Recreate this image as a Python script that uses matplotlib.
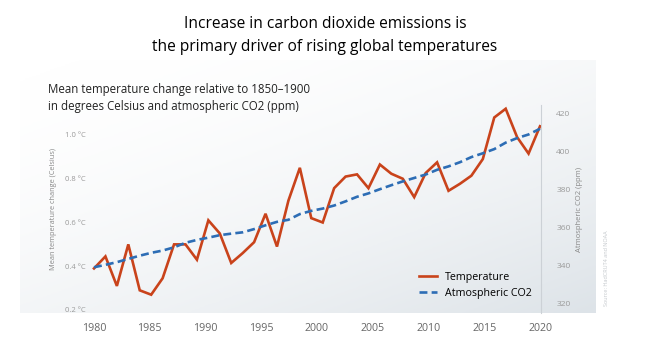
import numpy as np
import matplotlib
matplotlib.use("Agg")
import matplotlib.pyplot as plt
from matplotlib.colors import LinearSegmentedColormap

plt.rcParams['font.family'] = ['Open Sans', 'DejaVu Sans']

# Data
years = list(range(1980, 2020))
temperature = [0.39, 0.445, 0.31, 0.50, 0.29, 0.27, 0.345, 0.50, 0.50, 0.43,
               0.61, 0.55, 0.415, 0.46, 0.51, 0.64, 0.49, 0.70, 0.85, 0.62,
               0.60, 0.757, 0.81, 0.82, 0.757, 0.865, 0.823, 0.80, 0.716, 0.826,
               0.875, 0.745, 0.777, 0.814, 0.89, 1.08, 1.12, 0.99, 0.915, 1.04]
co2 = [338.8, 340.1, 341.5, 343.2, 344.9, 346.4, 347.6, 349.3, 351.7, 353.2,
       354.4, 355.7, 356.5, 357.2, 358.9, 360.9, 362.7, 363.8, 366.8, 368.5,
       369.7, 371.3, 373.5, 375.9, 377.7, 379.9, 382.0, 384.0, 385.8, 387.6,
       390.1, 391.9, 394.1, 396.8, 398.8, 401.0, 404.4, 406.8, 408.7, 411.7]
x_tick_labels = ["1980", "1985", "1990", "1995", "2000", "2005", "2010", "2015", "2020"]
temp_ticks = [0.2, 0.4, 0.6, 0.8, 1.0]
temp_tick_labels = ["0.2 °C", "0.4 °C", "0.6 °C", "0.8 °C", "1.0 °C"]
co2_ticks = [320, 340, 360, 380, 400, 420]

W, H = 650, 361
fig = plt.figure(figsize=(W / 100, H / 100), dpi=100)

# soft gradient panel behind the plot
bg = fig.add_axes([20 / W, (H - 313) / H, (596 - 20) / W, (313 - 60) / H])
u = np.linspace(0, 1, 300)
v = np.linspace(0, 1, 200)
U, V = np.meshgrid(u, v)
grad = np.clip((0.45 * U + 0.55 * V), 0, 1) ** 1.8
cmap = LinearSegmentedColormap.from_list("bg", ["#ffffff", "#dde3e8"])
bg.imshow(grad, cmap=cmap, aspect="auto", extent=[0, 1, 0, 1], origin="upper")
bg.axis("off")

# main axes
ax = fig.add_axes([90 / W, (H - 313) / H, (541 - 90) / W, (313 - 105) / H])
ax.patch.set_alpha(0)
ax2 = ax.twinx()

t_line, = ax.plot(years, temperature, color="#c9431b", lw=1.9, solid_joinstyle="miter",
                  label="Temperature", zorder=3)
c_line, = ax2.plot(years, co2, color="#2d6db5", lw=1.9, dashes=(3, 1.6),
                   label="Atmospheric CO2", zorder=2)

ax.set_xlim(1980 - 4 / 11.44, 2019 + 1 / 11.44)
ax.set_ylim(0.2 - 3 / 218.75, 1.0 + 30 / 218.75)
ax2.set_ylim(320 - 10 / 1.9, 420 + 8 / 1.9)

ax.set_xticks(np.linspace(years[0], years[-1], len(x_tick_labels)))
ax.set_xticklabels(x_tick_labels)
ax.set_yticks(temp_ticks)
ax.set_yticklabels(temp_tick_labels)
ax2.set_yticks(co2_ticks)

ax.tick_params(axis="x", length=0, pad=7, labelsize=7.7, labelcolor="#666666")
ax.tick_params(axis="y", length=0, pad=3, labelsize=5.5, labelcolor="#9a9a9a")
ax2.tick_params(axis="y", length=0, pad=11, labelsize=6, labelcolor="#9a9a9a")

for a in (ax, ax2):
    for s in a.spines.values():
        s.set_visible(False)
ax2.spines["right"].set_visible(True)
ax2.spines["right"].set_color("#ccd1d6")
ax2.spines["right"].set_linewidth(0.8)

ax.set_ylabel("Mean temperature change (Celsius)", fontsize=5.3, color="#888888", labelpad=6)
ax2.set_ylabel("Atmospheric CO2 (ppm)", fontsize=5.5, color="#888888", labelpad=4)

ax.legend(handles=[t_line, c_line], loc="lower right", bbox_to_anchor=(1.0, 0.02),
          frameon=False, fontsize=7.7, handlelength=1.7, handletextpad=0.7,
          labelspacing=0.5)

fig.text(325 / W, 1 - 24 / H, "Increase in carbon dioxide emissions is", ha="center",
         va="center", fontsize=11.2, weight="medium", color="#000000")
fig.text(325 / W, 1 - 47 / H, "the primary driver of rising global temperatures",
         ha="center", va="center", fontsize=11.2, weight="medium", color="#000000")
fig.text(48 / W, 1 - 90 / H, "Mean temperature change relative to 1850–1900",
         ha="left", va="center", fontsize=8.3, color="#222222")
fig.text(48 / W, 1 - 106 / H, "in degrees Celsius and atmospheric CO2 (ppm)",
         ha="left", va="center", fontsize=8.3, color="#222222")
fig.text(607 / W, 1 - 268 / H, "Source: HadCRUT4 and NOAA", rotation=90, ha="center",
         va="center", fontsize=4, color="#c4c8cc")

fig.savefig("out.png", dpi=100)
